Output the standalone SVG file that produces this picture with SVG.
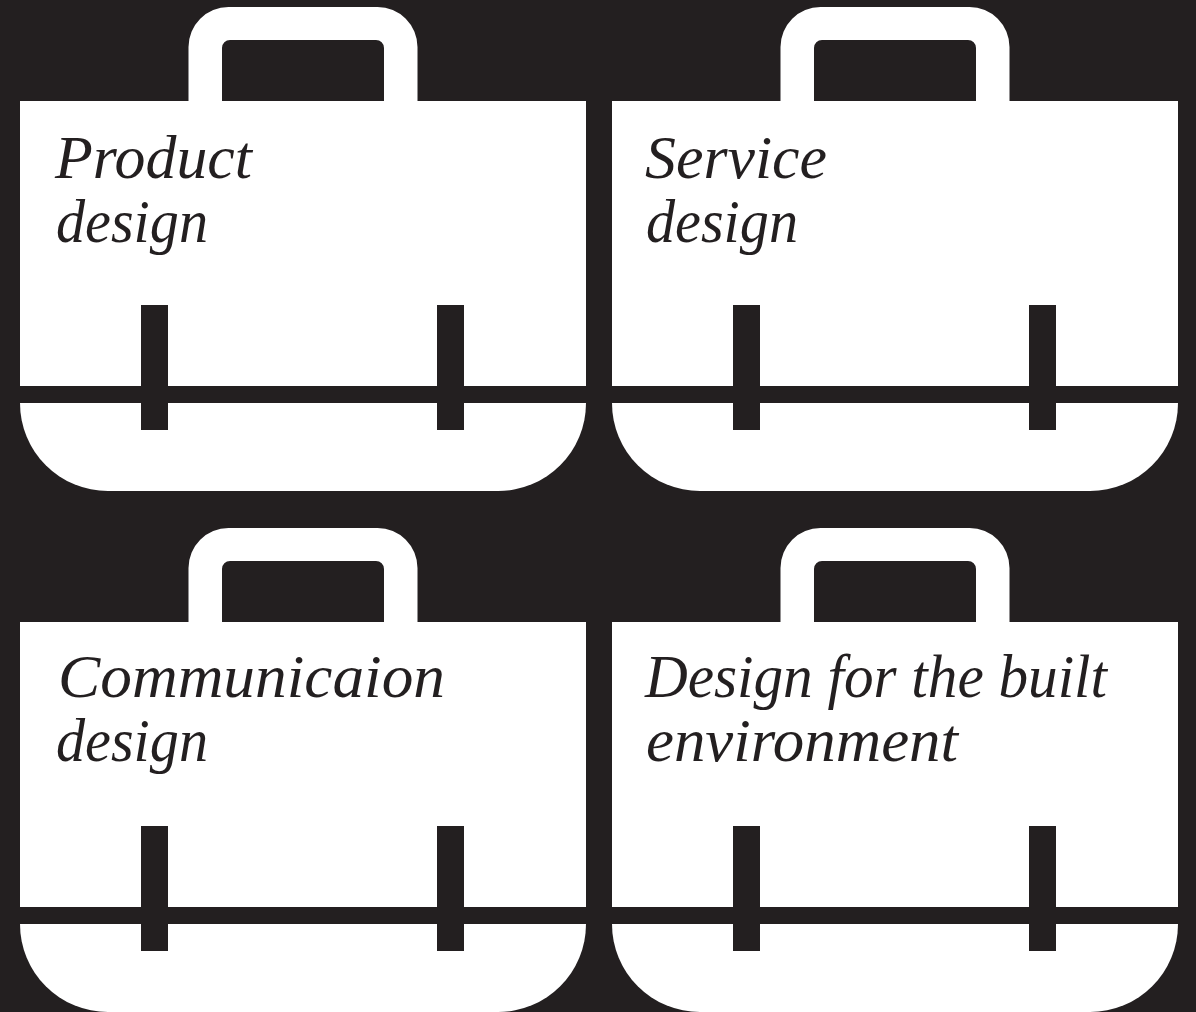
<svg xmlns="http://www.w3.org/2000/svg" width="1196" height="1012" viewBox="0 0 1196 1012">
<style>
.b{fill:#fff}.d{fill:#231f20}
text{font-family:"Liberation Serif",serif;font-style:italic;font-size:61px;fill:#231f20}
</style>
<defs>
<g id="bag">
<path class="b" fill-rule="evenodd" d="M188.500 102V47A40 40 0 0 1 228.500 7H377.500A40 40 0 0 1 417.500 47V102ZM222 102H384V48A8 8 0 0 0 376 40H230A8 8 0 0 0 222 48Z"/>
<path class="b" d="M20 101H586V386H20Z"/>
<path class="b" d="M20 403H586A88 88 0 0 1 498 491H108A88 88 0 0 1 20 403Z"/>
<rect class="d" x="141" y="305" width="27" height="125"/>
<rect class="d" x="437" y="305" width="27" height="125"/>
</g>
</defs>
<rect class="d" width="1196" height="1012"/>
<g id="connectors"/>
<g id="product"><use href="#bag"/><text x="55" y="178" textLength="197" lengthAdjust="spacingAndGlyphs">Product</text><text x="56" y="242" textLength="152" lengthAdjust="spacingAndGlyphs">design</text></g>
<g id="service"><use href="#bag" x="592"/><text x="645" y="178" textLength="182" lengthAdjust="spacingAndGlyphs">Service</text><text x="646" y="242" textLength="152" lengthAdjust="spacingAndGlyphs">design</text></g>
<g id="communication"><use href="#bag" y="521"/><text x="58" y="697" textLength="387" lengthAdjust="spacingAndGlyphs">Communicaion</text><text x="56" y="761" textLength="152" lengthAdjust="spacingAndGlyphs">design</text></g>
<g id="built"><use href="#bag" x="592" y="521"/><text x="645" y="697" textLength="462" lengthAdjust="spacingAndGlyphs">Design for the built</text><text x="646" y="761" textLength="312" lengthAdjust="spacingAndGlyphs">environment</text></g>
</svg>
